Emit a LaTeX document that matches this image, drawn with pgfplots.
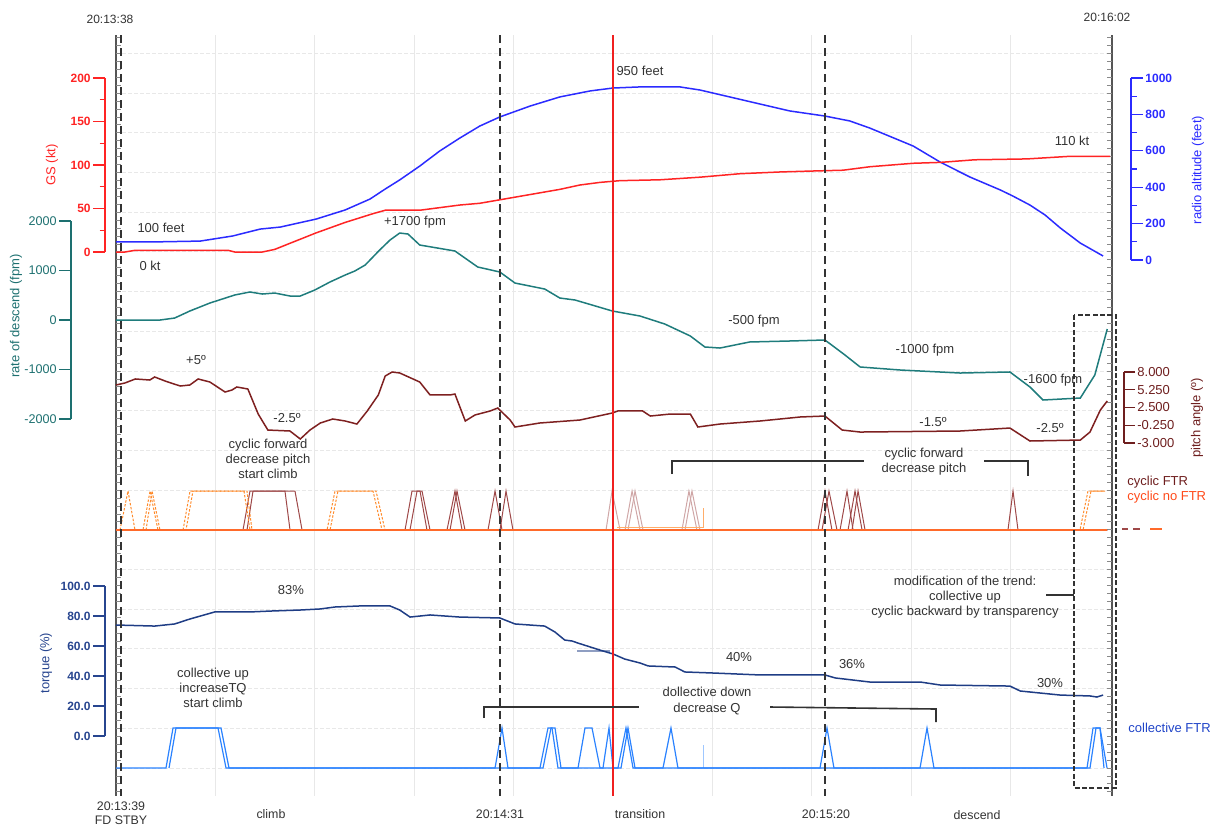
\documentclass[border=0pt]{standalone}
\usepackage{fontspec}
\setmainfont{Liberation Sans}
\usepackage{pgfplots}
\pgfplotsset{compat=1.18}

\definecolor{gsred}{HTML}{FF2424}
\definecolor{transred}{HTML}{F02020}
\definecolor{rablue}{HTML}{2B2BFF}
\definecolor{rodteal}{HTML}{1F7C7C}
\definecolor{rodtxt}{HTML}{1D7070}
\definecolor{pitchred}{HTML}{7E2020}
\definecolor{pitchtxt}{HTML}{6E1E1E}
\definecolor{cycftr}{HTML}{9E4848}
\definecolor{cycfade}{HTML}{CFA6A6}
\definecolor{cycorange}{HTML}{FF8A2A}
\definecolor{cycbase}{HTML}{FF6A2A}
\definecolor{cycnoftr}{HTML}{FF4A1A}
\definecolor{tqnavy}{HTML}{1F3D85}
\definecolor{tqtxt}{HTML}{27458F}
\definecolor{collblue}{HTML}{2A82FF}
\definecolor{colltxt}{HTML}{2044C8}
\definecolor{gridgray}{HTML}{E8E8E8}
\definecolor{framegray}{HTML}{555555}
\definecolor{annot}{HTML}{333333}

\newcommand\fA{\fontsize{6.5}{7.6}\selectfont}
\newcommand\fT{\fontsize{6}{7}\selectfont}

% positions below are in pt: x = px/2, y = -py/2 (origin top left)
\pgfplotsset{
  data/.style={scale only axis, hide axis, clip=false, xmin=0, xmax=144,
    width=497pt, anchor=south west},
  scl/.style={scale only axis, width=1pt, xmin=0, xmax=1, axis x line=none,
    xtick=\empty, yticklabel style={font=\fT, inner sep=1pt}},
  lscale/.style={scl, axis y line=left, anchor=south west, tick align=outside,
    major tick length=6pt, minor tick length=2.75pt},
  rscale/.style={scl, axis y line=right, anchor=south east, tick align=outside,
    major tick length=6pt, minor tick length=2.75pt},
  colstyle/.style={axis line style={#1, -, line width=0.7pt},
    tick style={#1, line width=0.6pt}, yticklabel style={#1}},
}

\begin{document}
\begin{tikzpicture}[x=0.5pt, y=-0.5pt]
\useasboundingbox (0,0) rectangle (1215,826);

% grid
\begin{axis}[scale only axis, at={(58pt,-398pt)}, anchor=south west, width=497pt,
  height=380.5pt, xmin=0, xmax=144, ymin=0, ymax=761,
  axis line style={draw=none}, tick style={draw=none},
  xtick={14.4,28.8,...,129.7}, ytick=\empty, xticklabels={},
  xmajorgrids, grid style={gridgray, line width=0.5pt}]
\end{axis}
\begin{axis}[scale only axis, at={(58pt,-398pt)}, anchor=south west, width=497pt,
  height=380.5pt, xmin=0, xmax=144, ymin=0, ymax=761,
  axis line style={draw=none}, tick style={draw=none},
  ytick={28,67.7,...,743}, xtick=\empty, yticklabels={},
  ymajorgrids, grid style={gridgray, line width=0.5pt, dash pattern=on 2pt off 1pt}]
\end{axis}

% frame lines
\draw[framegray, line width=0.6pt] (116,35) -- (116,796);
\draw[framegray, line width=0.6pt] (1112,35) -- (1112,796);
\foreach \k in {0,...,95} {
  \draw[framegray!70, line width=0.4pt] (116,{791.8-\k*7.94}) -- ++(5,0);
  \draw[framegray!70, line width=0.4pt] (1112,{791.8-\k*7.94}) -- ++(-5,0);
}

% ---- scale axes
\begin{axis}[lscale, colstyle=gsred, at={(52.5pt,-126pt)}, height=87pt, ymin=0, ymax=200,
  ytick={0,50,100,150,200}, minor ytick={25,75,125,175},
  yticklabels={0,50,100,150,200}, yticklabel style={font=\fT\bfseries}]
\end{axis}
\begin{axis}[rscale, colstyle=rablue, at={(565.5pt,-130pt)}, height=91pt, ymin=0, ymax=1000,
  ytick={0,200,400,600,800,1000}, minor ytick={100,300,500,700,900},
  yticklabels={0,200,400,600,800,1000}, yticklabel style={font=\fT\bfseries}]
\end{axis}
\begin{axis}[lscale, colstyle=rodtxt, at={(35.5pt,-209.5pt)}, height=99pt, ymin=-2000, ymax=2000,
  ytick={-2000,-1000,0,1000,2000},
  yticklabels={-2000,-1000,0,1000,2000},
  yticklabel style={font=\fontsize{6.3}{7}\selectfont}]
\end{axis}
\begin{axis}[rscale, colstyle=pitchtxt, at={(562pt,-221.5pt)}, height=35.5pt, ymin=-3, ymax=8,
  ytick={-3,-0.25,2.5,5.25,8}, major tick length=5.5pt,
  yticklabels={-3.000,-0.250,2.500,5.250,8.000},
  yticklabel style={font=\fontsize{6.5}{7}\selectfont}]
\end{axis}
\begin{axis}[lscale, colstyle=tqtxt, at={(52.5pt,-368pt)}, height=75pt, ymin=0, ymax=100,
  ytick={0,20,40,60,80,100},
  yticklabels={0.0,20.0,40.0,60.0,80.0,100.0}, yticklabel style={font=\fT\bfseries}]
\end{axis}

% ---- radio altitude (feet)
\begin{axis}[data, at={(58pt,-130pt)}, height=91pt, ymin=0, ymax=1000]
\addplot[rablue, line width=0.75pt] coordinates {
(0,99)(4.9,99)(12.2,104)(16.9,132)(20.9,170)(23.8,181)(29.0,225)(33.2,275)
(36.8,335)(39.0,390)(41.1,440)(44.0,516)(46.9,599)(49.8,670)(52.7,736)
(55.6,786)(60.0,846)(64.3,896)(68.7,929)(72.0,945)(75.9,951)(81.7,951)
(84.6,934)(88.9,896)(93.3,857)(97.6,819)(102.7,791)(106.3,764)(109.2,725)
(115.5,626)(119.4,538)(123.7,456)(128.1,385)(129.9,352)(132.4,302)
(134.6,247)(136.8,176)(139.7,93)(143.0,22)};
\end{axis}

% ---- GS (kt)
\begin{axis}[data, at={(58pt,-126pt)}, height=87pt, ymin=0, ymax=200]
\addplot[gsred, line width=0.75pt] coordinates {
(0,0)(1.3,0)(2.8,2)(16.2,2)(17.2,0)(21.2,0)(23.0,3)(25.2,10)(29.0,22)(33.2,34)
(37.2,44)(39.0,48)(41.1,48)(44.0,48)(46.9,51)(49.8,54)(52.7,56)(55.6,60)
(58.5,64)(61.4,68)(64.3,72)(67.2,77)(70.1,80)(73.0,82)(78.8,83)(84.6,86)
(90.4,90)(96.2,92)(100.5,93)(105.3,94)(109.2,98)(115.5,102)(119.4,103)
(124.4,106)(132.0,107)(138.2,110)(144,110)};
\end{axis}

% ---- rate of descend (fpm)
\begin{axis}[data, at={(58pt,-209.5pt)}, height=99pt, ymin=-2000, ymax=2000]
\addplot[rodteal, line width=0.75pt] coordinates {
(0,0)(6.4,0)(8.5,40)(10.7,182)(13.6,343)(17.2,505)(19.4,566)(21.2,525)
(23.0,545)(25.2,485)(26.7,485)(28.8,606)(31.0,768)(33.2,909)(34.6,990)
(36.1,1111)(38.2,1414)(39.7,1616)(41.1,1757)(42.3,1737)(44.0,1515)
(49.1,1394)(52.4,1071)(55.6,970)(57.8,747)(62.1,626)(64.3,444)(66.5,404)
(71.9,182)(75.9,81)(79.5,-81)(83.2,-323)(85.3,-545)(87.5,-566)(91.8,-444)
(97.6,-424)(102.7,-404)(105.6,-707)(107.8,-949)(113.6,-1010)(122.3,-1071)
(129.5,-1050)(132.4,-1353)(134.3,-1616)(139.7,-1576)(141.8,-1111)(143.6,-182)};
\end{axis}

% ---- pitch angle (deg)
\begin{axis}[data, at={(58pt,-221.5pt)}, height=35.5pt, ymin=-3, ymax=8]
\addplot[pitchred, line width=0.75pt] coordinates {
(0,5.99)(1.3,6.30)(2.8,6.92)(4.9,6.76)(5.6,7.23)(7.1,6.61)(9.3,5.83)
(10.7,5.99)(11.9,6.92)(13.6,6.45)(15.8,4.90)(16.8,5.21)(17.5,5.68)(19.1,5.37)
(20.6,1.49)(22.0,-0.99)(25.2,-1.14)(26.7,-2.38)(28.1,-0.99)(29.6,0.10)
(31.4,0.72)(33.2,0.41)(34.9,-0.06)(36.4,1.96)(38.0,4.44)(39.0,7.38)
(40.0,8.00)(41.1,7.85)(44.0,6.45)(45.5,4.44)(48.4,4.44)(49.1,4.59)
(50.6,0.41)(52.0,1.34)(54.2,1.96)(55.3,2.42)(57.1,0.56)(57.8,-0.52)
(61.4,0.10)(67.2,0.56)(71.9,1.65)(72.7,1.96)(76.3,1.96)(77.4,1.18)
(80.3,1.49)(83.2,1.49)(84.3,-0.52)(87.5,-0.06)(93.3,0.41)(99.1,1.03)
(102.7,1.18)(105.2,-0.99)(107.8,-1.30)(122.3,-1.14)(129.5,-0.68)
(132.4,-2.69)(139.7,-2.54)(141.1,-1.30)(142.6,2.11)(143.6,3.51)};
\end{axis}

% ---- cyclic FTR / cyclic no FTR (0/1)
\begin{axis}[data, at={(58pt,-265pt)}, height=19.5pt, ymin=0, ymax=1]
\addplot[cycfade, line width=0.5pt] coordinates {
(70.99,0)(71.86,1)(73.02,0)(73.74,0)(74.76,1)(75.92,0)(81.99,0)(83.00,1)(84.16,0)};
\addplot[cycfade, line width=0.5pt] coordinates {
(74.17,0)(75.19,1)(76.35,0)(82.43,0)(83.44,1)(84.60,0)};
\addplot[cycftr, line width=0.5pt] coordinates {
(0,0)(18.40,0)(19.41,1)(24.48,1)(25.21,0)(41.87,0)(42.88,1)(44.04,1)(45.05,0)
(47.95,0)(49.11,1)(50.13,0)(53.89,0)(54.91,1)(55.92,0)(101.70,0)(102.71,1)
(103.72,0)(104.89,0)(105.90,1)(106.77,0)(129.22,0)(129.95,1)(130.67,0)(143.6,0)};
\addplot[cycftr, line width=0.5pt] coordinates {
(0,0)(18.98,0)(19.85,1)(25.93,1)(26.95,0)(42.59,0)(43.61,1)(44.33,1)(45.49,0)
(48.39,0)(49.40,1)(50.56,0)(55.63,0)(56.50,1)(57.51,0)(102.28,0)(103.29,1)
(104.45,0)(106.05,0)(107.06,1)(108.08,0)(143.6,0)};
\addplot[cycftr, line width=0.5pt] coordinates {(106.63,0)(107.50,1)(108.51,0)};
\addplot[cycorange, line width=0.5pt, dash pattern=on 1.2pt off 0.8pt] coordinates {
(0.58,0)(1.74,1)(2.75,0)(3.91,0)(4.93,1)(6.08,0)(9.71,0)(10.72,1)(18.98,1)
(19.70,0)(30.57,0)(31.73,1)(37.23,1)(38.54,0)(139.65,0)(140.81,1)(143.28,1)};
\addplot[cycorange, line width=0.5pt, dash pattern=on 1.2pt off 0.8pt] coordinates {
(4.35,0)(5.22,1)(6.37,0)(10.14,0)(11.15,1)(18.54,1)(19.41,0)(31.00,0)(32.16,1)
(37.67,1)(38.97,0)(140.09,0)(141.25,1)(143.28,1)};
\addplot[cycorange!70, line width=0.5pt] coordinates {
(72.58,0.077)(85.04,0.077)(85.04,0.56)};
\addplot[cycbase, line width=0.6pt] coordinates {(0,0)(143.6,0)};
\end{axis}

% ---- torque (%)
\begin{axis}[data, at={(58pt,-368pt)}, height=75pt, ymin=0, ymax=100]
\addplot[tqnavy!50!white, line width=0.6pt] coordinates {(66.8,56.7)(71.6,56.7)};
\addplot[tqnavy, line width=0.75pt] coordinates {
(0,74.0)(5.6,73.3)(8.5,74.7)(10.7,78.0)(14.3,82.7)(19.4,82.7)(22.3,83.3)
(26.7,84.0)(29.6,84.7)(31.7,86.0)(35.3,86.7)(39.7,86.7)(41.1,84.0)(42.6,79.3)
(45.5,80.7)(49.8,79.3)(55.6,78.7)(57.8,74.7)(62.1,73.3)(63.6,69.3)(65.0,64.0)
(66.1,63.3)(66.9,62.0)(70.1,57.3)(72.0,54.7)(73.7,51.3)(75.9,48.7)(77.1,46.7)
(81.0,46.0)(82.4,42.7)(86.5,42.0)(93.3,40.7)(102.7,40.7)(104.2,38.7)
(109.2,36.0)(116.5,36.0)(119.4,34.0)(129.5,33.3)(131.0,30.0)(136.8,27.3)
(141.1,26.7)(142.1,26.0)(143.0,27.3)};
\end{axis}

% ---- collective FTR (0/1)
\begin{axis}[data, at={(58pt,-384pt)}, height=20pt, ymin=0, ymax=1]
\addplot[collblue!45, line width=0.5pt] coordinates {(85.04,0)(85.04,0.575)};
\addplot[collblue, line width=0.6pt] coordinates {
(0,0)(7.24,0)(8.26,1)(14.78,1)(15.94,0)(54.91,0)(55.92,1)(56.79,0)(61.42,0)
(62.58,1)(63.16,1)(64.03,0)(66.93,0)(67.94,1)(68.96,1)(70.12,0)(70.55,0)
(71.42,1)(72.00,0)(72.72,0)(73.88,1)(74.90,0)(79.24,0)(80.40,1)(81.41,0)
(101.99,0)(103.00,1)(104.01,0)(116.48,0)(117.49,1)(118.50,0)(140.67,0)
(141.54,1)(142.55,1)(143.57,0)};
\addplot[collblue, line width=0.6pt] coordinates {
(7.68,0)(8.69,1)(15.21,1)(16.37,0)(61.86,0)(63.02,1)(63.60,1)(64.47,0)
(73.16,0)(74.17,1)(75.19,0)(141.10,0)(141.97,1)(142.55,1)(143.13,0)};
\end{axis}

% ---- event lines
\foreach \xx in {121,500,825}
  \draw[annot, line width=1pt, dash pattern=on 4pt off 2.5pt] (\xx,35) -- (\xx,796);
\draw[draw=transred, line width=0.6pt] (613,35) -- (613,796);
\draw[annot, line width=0.8pt, dash pattern=on 2.5pt off 1.2pt] (1074,315) rectangle (1116,788);

% ---- brackets
\begin{scope}[annot, line width=0.8pt]
\draw (672,474) -- (672,461) -- (864,461);
\draw (984,461) -- (1028,461) -- (1028,476);
\draw (484,718) -- (484,707) -- (639,707);
\draw (770,707) -- (936,709) -- (936,722);
\draw (1046,595) -- (1074,595);
\end{scope}

% ---- legend samples
\draw[cycftr, line width=0.8pt] (1122,529) -- (1128,529);
\draw[cycftr, line width=0.8pt] (1133,529) -- (1140,529);
\draw[cycbase, line width=0.8pt] (1150,529) -- (1162,529);

% ---- axis titles
\node[rotate=90, gsred, font=\fA] at (52,165) {GS (kt)};
\node[rotate=90, rodtxt, font=\fA] at (16,316) {rate of descend (fpm)};
\node[rotate=90, tqtxt, font=\fA] at (46,663) {torque (\%)};
\node[rotate=90, rablue, font=\fA] at (1198,170) {radio altitude (feet)};
\node[rotate=90, pitchtxt, font=\fA] at (1197,418) {pitch angle (º)};

% ---- legend texts
\node[anchor=west, pitchtxt, font=\fA, inner sep=0pt] at (1127,482) {cyclic FTR};
\node[anchor=west, cycnoftr, font=\fA, inner sep=0pt] at (1127,497) {cyclic no FTR};
\node[anchor=west, colltxt, font=\fA, inner sep=0pt] at (1128,728) {collective FTR};

% ---- annotations
\begin{scope}[every node/.style={annot, font=\fA, inner sep=0pt, align=center}]
\node[font=\fT] at (110,19) {20:13:38};
\node[font=\fT] at (1107,17) {20:16:02};
\node at (161,228) {100 feet};
\node at (150,266) {0 kt};
\node at (415,222) {+1700 fpm};
\node at (640,71) {950 feet};
\node at (1072,141) {110 kt};
\node at (754,321) {-500 fpm};
\node at (925,350) {-1000 fpm};
\node at (1053,380) {-1600 fpm};
\node at (196,360) {+5º};
\node at (287,418) {-2.5º};
\node at (933,422) {-1.5º};
\node at (1050,428) {-2.5º};
\node at (268,459) {cyclic forward\\decrease pitch\\start climb};
\node at (924,462) {cyclic forward\\decrease pitch};
\node at (291,590) {83\%};
\node at (739,657) {40\%};
\node at (852,664) {36\%};
\node at (1050,683) {30\%};
\node at (213,688) {collective up\\increaseTQ\\start climb};
\node at (707,701) {dollective down\\decrease Q};
\node at (965,597) {modification of the trend:\\collective up\\cyclic backward by transparency};
\node[font=\fontsize{6.2}{7}\selectfont] at (121,813) {20:13:39\\FD STBY};
\node[font=\fontsize{6.2}{7}\selectfont] at (271,814) {climb};
\node[font=\fontsize{6.2}{7}\selectfont] at (500,814) {20:14:31};
\node[font=\fontsize{6.2}{7}\selectfont] at (640,814) {transition};
\node[font=\fontsize{6.2}{7}\selectfont] at (826,814) {20:15:20};
\node[font=\fontsize{6.2}{7}\selectfont] at (977,815) {descend};
\end{scope}
\end{tikzpicture}
\end{document}
